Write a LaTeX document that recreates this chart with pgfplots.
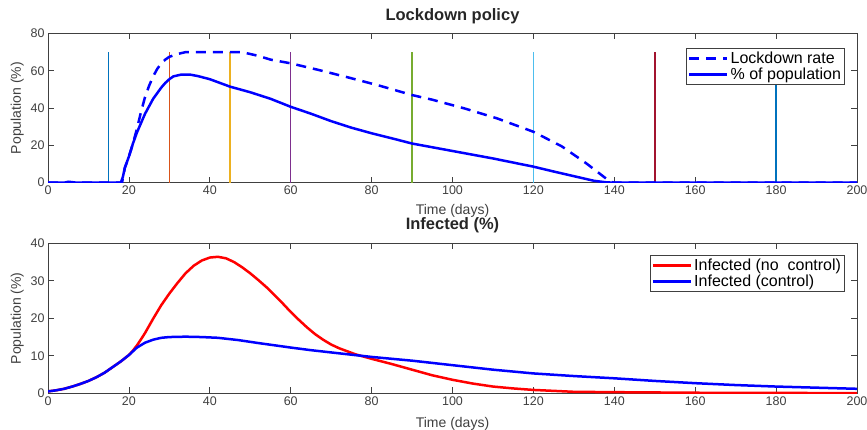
\documentclass[border=0pt]{standalone}
\usepackage{fontspec}
\setmainfont{Liberation Sans}
\usepackage{pgfplots}
\pgfplotsset{compat=1.18}

% MATLAB default line colours
\definecolor{mlblue}{rgb}{0,0.447,0.741}
\definecolor{mlorange}{rgb}{0.85,0.325,0.098}
\definecolor{mlyellow}{rgb}{0.929,0.694,0.125}
\definecolor{mlpurple}{rgb}{0.494,0.184,0.556}
\definecolor{mlgreen}{rgb}{0.466,0.674,0.188}
\definecolor{mlcyan}{rgb}{0.301,0.745,0.933}
\definecolor{mlred}{rgb}{0.635,0.078,0.184}
\definecolor{axgray}{HTML}{404040}

\pgfplotsset{
  matstyle/.style={
    scale only axis,
    width=809pt,
    xmin=0, xmax=200,
    xtick={0,20,...,200},
    tick align=inside,
    major tick length=6pt,
    axis line style={draw=axgray, line width=1pt},
    tick style={draw=axgray, line width=0.8pt},
    tick label style={font=\fontsize{12.5}{14}\selectfont, text=axgray},
    /pgf/number format/assume math mode=true,
    title style={font=\fontsize{16.5}{18}\selectfont\bfseries, text=black!85, anchor=base},
    xlabel={Time (days)},
    ylabel={Population (\%)},
    every axis y label/.style={at={(axis description cs:-0.038,0.5)}, rotate=90,
      anchor=center, font=\fontsize{14}{16}\selectfont, text=axgray},
    legend cell align=left,
    legend style={font=\fontsize{16}{18}\selectfont, draw=axgray, line width=0.8pt,
      inner sep=1.5pt, row sep=-1pt, anchor=north east},
    legend image code/.code={\draw[#1] (0pt,0pt) -- (38pt,0pt);},
    vline/.style={line width=1.5pt, forget plot},
  }
}

\begin{document}
\begin{tikzpicture}
\path[use as bounding box] (0,0) rectangle (867pt,-430pt);

\begin{axis}[
    matstyle,
    at={(48pt,-33.5pt)}, anchor=north west,
    height=149.2pt,
    ymin=0, ymax=80,
    ytick={0,20,...,80},
    title={Lockdown policy},
    title style={at={(axis description cs:0.5,1.046)}},
    every axis x label/.style={at={(axis description cs:0.5,-0.211)}, anchor=base,
      font=\fontsize{14}{16}\selectfont, text=axgray},
    legend style={at={(0.985,0.903)}},
]
% policy change dates
\addplot[mlblue, vline] coordinates {(15,0) (15,70)};
\addplot[mlorange, vline] coordinates {(30,0) (30,70)};
\addplot[mlyellow, vline] coordinates {(45,0) (45,70)};
\addplot[mlpurple, vline] coordinates {(60,0) (60,70)};
\addplot[mlgreen, vline] coordinates {(90,0) (90,70)};
\addplot[mlcyan, vline] coordinates {(120,0) (120,70)};
\addplot[mlred, vline] coordinates {(150,0) (150,70)};
\addplot[mlblue, vline] coordinates {(180,0) (180,70)};

\addplot[blue, line width=2.5pt, dash pattern=on 10pt off 7pt] coordinates {
(0,0) (18.3,0) (19,8) (20,14) (21,21) (22,29) (23,38) (24,46) (25,52) (26,57)
(27,61) (28,64) (29,66) (30,67.5) (32,69) (34,70) (48,70) (50,69) (52,68)
(55,66) (60,64) (67,60.4) (75,56) (82,52) (90,47) (95,44.5) (103,39.8)
(111,34.5) (120,27.3) (127,19.5) (133,10.5) (139,0.5) (140,0) (200,0)
};
\addlegendentry{Lockdown rate}

\addplot[blue, line width=2.5pt] coordinates {
(0,0) (4,0) (5,0.5) (6,0.3) (7,0) (18,0) (18.5,3) (19,8) (20,14) (21,21)
(22,27) (23,32) (24,37) (25,41) (26,45) (27,48) (28,51) (29,53.5) (30,55.5)
(31,57) (33,58) (35,58) (37,57.2) (40,55.5) (45,51.5) (50,48.5) (55,45)
(60,40.7) (65,37) (70,33) (75,29.5) (80,26.5) (85,23.8) (90,21) (95,19)
(100,17) (110,13) (120,8.6) (125,6) (130,3.5) (135,1) (138,0.2) (140,0) (200,0)
};
\addlegendentry{\% of population}
\end{axis}

\begin{axis}[
    matstyle,
    at={(48pt,-243.3pt)}, anchor=north west,
    height=150pt,
    ymin=0, ymax=40,
    ytick={0,10,...,40},
    title={Infected (\%)},
    title style={at={(axis description cs:0.5,1.055)}},
    every axis x label/.style={at={(axis description cs:0.5,-0.227)}, anchor=base,
      font=\fontsize{14}{16}\selectfont, text=axgray},
    legend style={at={(0.985,0.922)}},
]
\addplot[red, line width=2.5pt] coordinates {
(0,0.5) (2,0.8) (4,1.2) (6,1.8) (8,2.5) (10,3.3) (12,4.3) (14,5.5) (16,7)
(18,8.5) (20,10.2) (21,11.4) (22,12.8) (23,14.4) (24,16.1) (25,18) (26,19.9)
(28,23.5) (30,26.6) (32,29.4) (34,32) (36,34) (38,35.4) (40,36.2) (42,36.4)
(44,36) (46,35) (48,33.6) (50,32) (52,30.2) (54,28.3) (56,26.2) (58,24)
(60,21.7) (62,19.6) (64,17.6) (66,15.8) (68,14.3) (70,13) (72,12) (74,11.2)
(76,10.4) (78,9.8) (80,9.2) (85,7.8) (90,6.3) (95,4.8) (100,3.6) (105,2.6)
(110,1.8) (115,1.3) (120,0.9) (130,0.4) (140,0.3) (160,0.15) (180,0.1) (200,0.05)
};
\addlegendentry{Infected (no\ \ control)}

\addplot[blue, line width=2.5pt] coordinates {
(0,0.5) (2,0.8) (4,1.2) (6,1.8) (8,2.5) (10,3.3) (12,4.3) (14,5.5) (16,7)
(18,8.5) (20,10.2) (22,12.2) (24,13.5) (26,14.3) (28,14.8) (30,15) (34,15.1)
(38,15) (42,14.8) (47,14.2) (52,13.4) (56,12.8) (60,12.2) (65,11.5) (70,10.9)
(75,10.3) (80,9.7) (85,9.2) (90,8.7) (95,8.1) (100,7.5) (110,6.3) (120,5.3)
(130,4.6) (140,4) (150,3.3) (160,2.7) (170,2.2) (180,1.8) (190,1.5) (200,1.2)
};
\addlegendentry{Infected (control)}
\end{axis}
\end{tikzpicture}
\end{document}
